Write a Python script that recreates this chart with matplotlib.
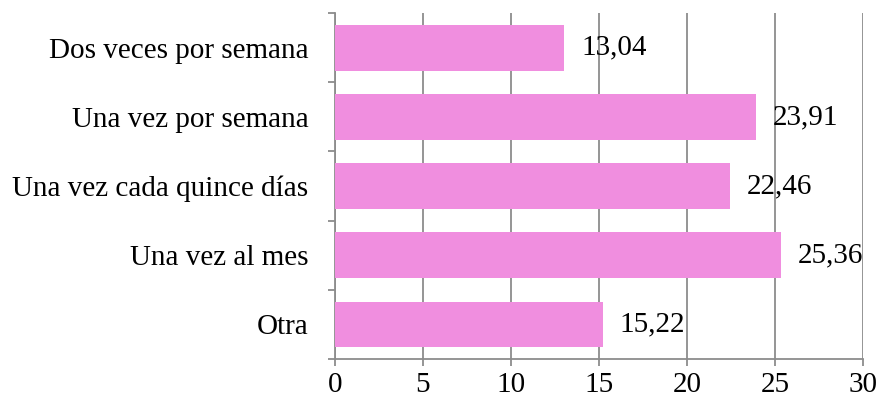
import matplotlib
matplotlib.use("Agg")
import matplotlib.pyplot as plt
import numpy as np

categories = ["Dos veces por semana", "Una vez por semana", "Una vez cada quince días",
              "Una vez al mes", "Otra"]
values = [13.04, 23.91, 22.46, 25.36, 15.22]
value_labels = ["13,04", "23,91", "22,46", "25,36", "15,22"]
xticks = [0, 5, 10, 15, 20, 25, 30]

bar_color = "#f08edf"
axis_color = "#8c8c8c"

plt.rcParams["font.family"] = ["Liberation Serif", "DejaVu Serif"]

fig = plt.figure(figsize=(8.81, 4.03), dpi=100)
ax = fig.add_axes([0.380, 0.109, 0.5996, 0.8585])

y = np.arange(len(categories))
ax.barh(y, values, height=0.66, color=bar_color, zorder=3)

ax.set_xlim(0, 30)
ax.set_ylim(len(categories) - 0.5, -0.5)

# gridlines every 5, drawn under the bars
ax.set_xticks(xticks)
ax.set_xticklabels([str(t) for t in xticks], fontsize=21)
ax.grid(axis="x", color=axis_color, linewidth=1.3, zorder=0)
ax.set_axisbelow(True)

# category labels at centre, tick marks at the boundaries
ax.set_yticks(y)
ax.set_yticklabels(categories, fontsize=21)
ax.tick_params(axis="y", which="major", length=0, pad=19)
ax.set_yticks(np.arange(-0.5, len(categories)), minor=True)
ax.tick_params(axis="y", which="minor", length=5, width=1.3, color=axis_color, direction="out")
ax.tick_params(axis="x", length=5, width=1.3, color=axis_color, pad=4)

for s in ["top", "right"]:
    ax.spines[s].set_visible(False)
for s in ["left", "bottom"]:
    ax.spines[s].set_color(axis_color)
    ax.spines[s].set_linewidth(1.3)

for yi, v, lab in zip(y, values, value_labels):
    ax.annotate(lab, xy=(v, yi), xytext=(12, 0), textcoords="offset points",
                va="center", ha="left", fontsize=21, color="black", zorder=4)

fig.savefig("out.png", dpi=100)
